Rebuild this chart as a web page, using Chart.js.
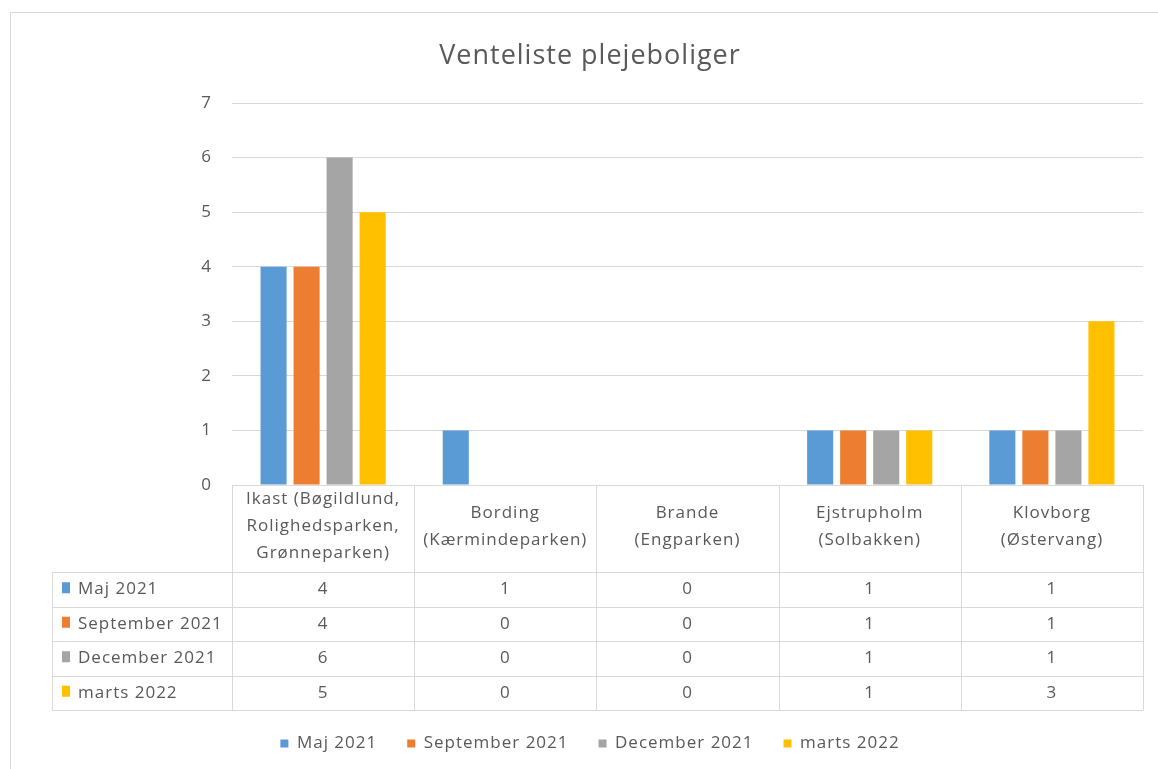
<!DOCTYPE html>
<html>
<head>
<meta charset="utf-8">
<script src="https://cdn.jsdelivr.net/npm/chart.js@4.4.1/dist/chart.umd.min.js"></script>
<style>
  html, body { margin: 0; padding: 0; background: #fff; }
  #wrap { width: 1158px; height: 769px; position: relative; }
</style>
</head>
<body>
<div id="wrap"><canvas id="chart"></canvas></div>
<script>
// data
const categories = [
  ['Ikast (Bøgildlund,', 'Rolighedsparken,', 'Grønneparken)'],
  ['Bording', '(Kærmindeparken)'],
  ['Brande', '(Engparken)'],
  ['Ejstrupholm', '(Solbakken)'],
  ['Klovborg', '(Østervang)']
];
const seriesNames = ['Maj 2021', 'September 2021', 'December 2021', 'marts 2022'];
const maj2021 = [4, 1, 0, 1, 1];
const september2021 = [4, 0, 0, 1, 1];
const december2021 = [6, 0, 0, 1, 1];
const marts2022 = [5, 0, 0, 1, 3];
const seriesColors = ['#5B9BD5', '#ED7D31', '#A5A5A5', '#FFC000'];
const yMax = 7;

const textColor = '#595959';
const lineColor = '#d9d9d9';
const fontFamily = "'Open Sans', sans-serif";
const bottomPad = 7;
const leftPad = 37;

// the Excel text is spaced a bit wider than Open Sans
const spacingPlugin = {
  id: 'spacing',
  beforeLayout(chart) { chart.ctx.letterSpacing = '1px'; },
  beforeDraw(chart) { chart.ctx.letterSpacing = '1px'; }
};

// light frame round the chart, like the Excel chart border
const framePlugin = {
  id: 'frame',
  beforeDraw(chart) {
    const ctx = chart.ctx;
    ctx.save();
    ctx.fillStyle = '#fff';
    ctx.fillRect(0, 0, chart.width, chart.height);
    ctx.strokeStyle = lineColor;
    ctx.lineWidth = 1;
    ctx.beginPath();
    ctx.moveTo(10.5, chart.height);
    ctx.lineTo(10.5, 12.5);
    ctx.lineTo(chart.width, 12.5);
    ctx.stroke();
    ctx.restore();
  }
};

// data table under the plot, columns taken from the x scale
const dataTablePlugin = {
  id: 'dataTable',
  afterDraw(chart) {
    const { ctx, chartArea, scales: { x } } = chart;
    const colW = x.getPixelForValue(1) - x.getPixelForValue(0);
    const headH = 87;
    const rowH = 34.5;
    const tableLeft = 52;
    const top = chartArea.bottom;
    const rowsTop = top + headH;
    const bottom = rowsTop + rowH * chart.data.datasets.length;
    const snap = v => Math.round(v) + 0.5;

    ctx.save();
    ctx.strokeStyle = lineColor;
    ctx.lineWidth = 1;
    ctx.beginPath();
    // vertical lines
    for (let i = 0; i <= categories.length; i++) {
      const px = snap(chartArea.left + i * colW);
      ctx.moveTo(px, top);
      ctx.lineTo(px, bottom);
    }
    ctx.moveTo(snap(tableLeft), snap(rowsTop));
    ctx.lineTo(snap(tableLeft), snap(bottom));
    // horizontal lines
    for (let r = 0; r <= chart.data.datasets.length; r++) {
      const py = snap(rowsTop + r * rowH);
      ctx.moveTo(snap(tableLeft), py);
      ctx.lineTo(snap(chartArea.right), py);
    }
    ctx.stroke();

    ctx.fillStyle = textColor;
    ctx.textBaseline = 'middle';
    ctx.textAlign = 'center';
    ctx.font = "17px " + fontFamily;

    // header: category names
    const lineH = 27;
    categories.forEach((lines, i) => {
      const cx = x.getPixelForValue(i);
      const startY = top + headH / 2 - 2 - (lines.length - 1) * lineH / 2;
      lines.forEach((t, k) => ctx.fillText(t, cx, startY + k * lineH));
    });

    // rows
    chart.data.datasets.forEach((ds, r) => {
      const cy = rowsTop + rowH * r + rowH / 2;
      ctx.fillStyle = ds.backgroundColor;
      ctx.fillRect(tableLeft + 10, cy - 7, 8, 11);
      ctx.fillStyle = textColor;
      ctx.textAlign = 'left';
      ctx.fillText(ds.label, tableLeft + 26, cy);
      ctx.textAlign = 'center';
      ds.data.forEach((v, i) => {
        ctx.fillText(String(v), x.getPixelForValue(i), cy);
      });
    });
    ctx.restore();
  }
};

const allSeries = [maj2021, september2021, december2021, marts2022];

const ctx = document.getElementById('chart').getContext('2d');
new Chart(ctx, {
  type: 'bar',
  data: {
    labels: categories,
    datasets: allSeries.map((values, i) => ({
      label: seriesNames[i],
      data: values,
      backgroundColor: seriesColors[i],
      categoryPercentage: 0.725,
      barPercentage: 0.79
    }))
  },
  options: {
    responsive: true,
    maintainAspectRatio: false,
    animation: false,
    layout: {
      padding: { left: leftPad, right: 15, top: 0, bottom: bottomPad }
    },
    plugins: {
      title: {
        display: true,
        text: 'Venteliste plejeboliger',
        color: textColor,
        font: { family: fontFamily, size: 27, weight: 'normal' },
        padding: { top: 40, bottom: 30.6 }
      },
      legend: {
        position: 'bottom',
        labels: {
          color: textColor,
          boxWidth: 8,
          boxHeight: 8,
          padding: 30,
          font: { family: fontFamily, size: 17 }
        }
      },
      tooltip: { enabled: false }
    },
    scales: {
      x: {
        grid: { display: false },
        border: { color: lineColor },
        ticks: { display: false },
        afterFit(scale) {
          const legendH = scale.chart.legend ? scale.chart.legend.height : 0;
          scale.height = scale.chart.height - 485 - legendH - bottomPad;
        }
      },
      y: {
        min: 0,
        max: yMax,
        ticks: {
          stepSize: 1,
          color: textColor,
          padding: 20,
          font: { family: fontFamily, size: 17 }
        },
        grid: { color: lineColor, drawTicks: false },
        border: { display: false },
        afterFit(scale) {
          scale.width = 232 - leftPad;
        }
      }
    }
  },
  plugins: [spacingPlugin, framePlugin, dataTablePlugin]
});
</script>
</body>
</html>
